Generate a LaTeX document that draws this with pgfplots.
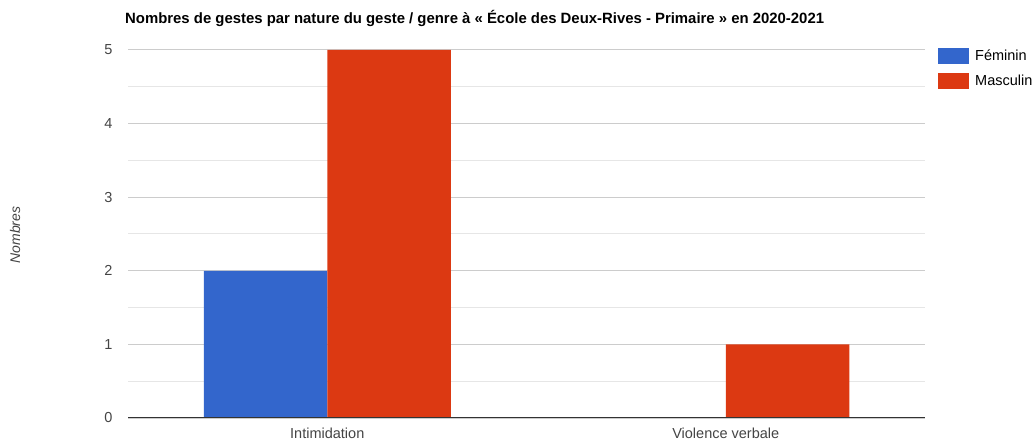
\documentclass[border=0pt]{standalone}
\usepackage{pgfplots}
\pgfplotsset{compat=1.18}
\usepackage{fontspec}
\setmainfont{Liberation Sans}
\definecolor{fem}{HTML}{3366CC}
\definecolor{mas}{HTML}{DC3912}
\definecolor{majgrid}{HTML}{CCCCCC}
\definecolor{mingrid}{HTML}{E6E6E6}
\definecolor{ticktxt}{HTML}{444444}
\definecolor{basecol}{HTML}{333333}
\begin{document}
\begin{tikzpicture}
\path[use as bounding box] (0bp,0bp) rectangle (1034bp,441bp);
\begin{axis}[
  at={(128bp,23bp)}, anchor=south west,
  scale only axis, width=797bp, height=368bp,
  ybar=0pt, bar width=123.5bp,
  xmin=-0.5, xmax=1.5, ymin=0, ymax=5,
  xtick={0,1}, xticklabels={Intimidation, Violence verbale},
  ytick={0,1,2,3,4,5}, minor y tick num=1,
  ymajorgrids, yminorgrids,
  major grid style={majgrid, line width=1bp},
  minor grid style={mingrid, line width=1bp},
  axis line style={draw=none},
  major tick length=0pt, minor tick length=0pt,
  tick label style={font=\fontsize{14.5bp}{17bp}\selectfont, text=ticktxt},
  /pgf/number format/assume math mode=true,
  yticklabel style={xshift=-12bp},
  xticklabel style={yshift=-6bp},
  legend style={at={(1,1)}, anchor=north west, xshift=13bp, yshift=2bp, draw=none, fill=none,
    font=\fontsize{14.5bp}{17bp}\selectfont, row sep=9bp, inner sep=0pt,
    /tikz/every odd column/.append style={column sep=4bp}},
  legend cell align=left,
]
\addplot[fill=fem, draw=none, legend image code/.code={\fill[fem] (0bp,-8bp) rectangle (31bp,8bp);}] coordinates {(0,2) (1,0)};
\addplot[fill=mas, draw=none, legend image code/.code={\fill[mas] (0bp,-8bp) rectangle (31bp,8bp);}] coordinates {(0,5) (1,1)};
\legend{Féminin, Masculin}
\draw[color=basecol, line width=2bp] (axis cs:-0.5,0) -- (axis cs:1.5,0);
\end{axis}
\node[anchor=west, inner sep=0pt, font=\fontsize{14.9bp}{17bp}\selectfont\bfseries] at (125bp,423bp) {Nombres de gestes par nature du geste / genre à « École des Deux-Rives - Primaire » en 2020-2021};
\node[rotate=90, inner sep=0pt, text=ticktxt, font=\fontsize{14bp}{16bp}\selectfont\itshape] at (15bp,206bp) {Nombres};
\end{tikzpicture}
\end{document}
